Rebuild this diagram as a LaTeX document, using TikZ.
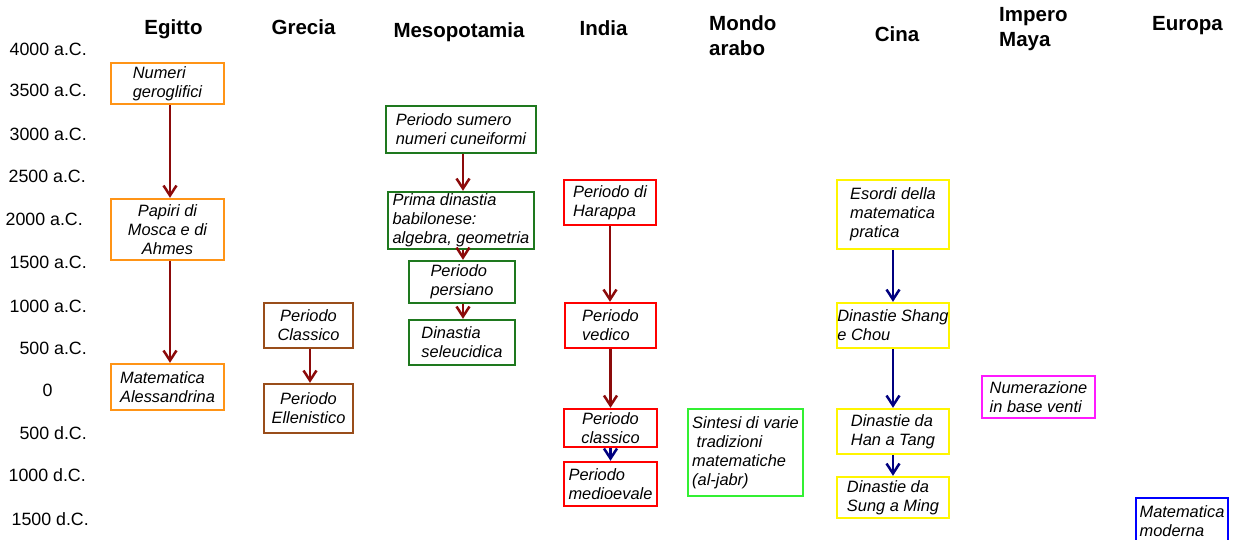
\documentclass[tikz,border=0pt]{standalone}
\usepackage{fontspec}
\setmainfont{Liberation Sans}
\usetikzlibrary{arrows.meta}
\definecolor{egy}{HTML}{FF9416}
\definecolor{gre}{HTML}{994D1A}
\definecolor{mes}{HTML}{1E781E}
\definecolor{ind}{HTML}{FF0000}
\definecolor{ara}{HTML}{33F033}
\definecolor{cin}{HTML}{FFF500}
\definecolor{may}{HTML}{FF1AFF}
\definecolor{eur}{HTML}{0000FF}
\definecolor{arrred}{HTML}{8C0A0A}
\definecolor{arrblu}{HTML}{000080}
\newcommand{\mybxfont}{\fontsize{16.4}{19}\selectfont\itshape}
\newcommand{\myyrfont}{\fontsize{17.8}{20}\selectfont}
\newcommand{\myhdfont}{\fontsize{20.5}{25}\selectfont\bfseries}
\tikzset{
  box/.style={draw=#1, line width=2.4pt, rectangle, font=\mybxfont, align=left, inner sep=0pt},
  arr/.style={draw=#1, line width=2.5pt, -{Straight Barb[length=10pt,width=13pt]}},
  yr/.style={font=\myyrfont, anchor=east, inner sep=0pt},
  hd/.style={font=\myhdfont, anchor=base, inner sep=0pt, align=left},
}
\begin{document}
\begin{tikzpicture}[x=1pt,y=-1pt]
\fill[white] (0,0) rectangle (1235,540);
\useasboundingbox (0,0) rectangle (1235,540);

% year labels
\node[yr] (y1) at (87,49.7) {4000 a.C.};
\node[yr] (y2) at (87,90.5) {3500 a.C.};
\node[yr] (y3) at (87,134) {3000 a.C.};
\node[yr] (y4) at (86,176.7) {2500 a.C.};
\node[yr] (y5) at (83,219) {2000 a.C.};
\node[yr] (y6) at (87,262.5) {1500 a.C.};
\node[yr] (y7) at (87,306) {1000 a.C.};
\node[yr] (y8) at (87,348) {500 a.C.};
\node[yr,anchor=center] (y9) at (47.5,390) {0};
\node[yr] (y10) at (87,433.5) {500 d.C.};
\node[yr] (y11) at (86,475.5) {1000 d.C.};
\node[yr] (y12) at (89,519) {1500 d.C.};

% headers
\node[hd] (hE) at (173.5,35) {Egitto};
\node[hd] (hG) at (303.5,35) {Grecia};
\node[hd] (hM) at (459,38) {Mesopotamia};
\node[hd] (hI) at (603.5,35.5) {India};
\node[hd,anchor=west] (hA) at (709,35.5) {Mondo\\arabo};
\node[hd] (hC) at (897,42) {Cina};
\node[hd,anchor=west] (hY) at (999,29.5) {Impero\\Maya};
\node[hd] (hU) at (1187.5,31) {Europa};

% Egitto
\node[box=egy, minimum width=113pt, minimum height=41pt] (E1) at (167.5,83.5) {Numeri\\geroglifici};
\node[box=egy, minimum width=113pt, minimum height=61pt, align=center] (E2) at (167.5,229.5) {Papiri di\\Mosca e di\\Ahmes};
\node[box=egy, minimum width=113pt, minimum height=46pt] (E3) at (167.5,387) {Matematica\\Alessandrina};

% Grecia
\node[box=gre, minimum width=89pt, minimum height=45pt, align=center] (G1) at (308.5,325.5) {Periodo\\Classico};
\node[box=gre, minimum width=89pt, minimum height=49pt, align=center] (G2) at (308.5,408.5) {Periodo\\Ellenistico};

% Mesopotamia
\node[box=mes, minimum width=150pt, minimum height=47pt] (M1) at (461,129.5) {Periodo sumero\\numeri cuneiformi};
\node[box=mes, minimum width=146pt, minimum height=57pt] (M2) at (461,220.5) {Prima dinastia\\babilonese:\\algebra, geometria};
\node[box=mes, minimum width=106pt, minimum height=42pt] (M3) at (462,282) {Periodo\\persiano};
\node[box=mes, minimum width=106pt, minimum height=45pt] (M4) at (462,342.5) {Dinastia\\seleucidica};

% India
\node[box=ind, minimum width=92pt, minimum height=45pt] (I1) at (610,202.5) {Periodo di\\Harappa};
\node[box=ind, minimum width=91pt, minimum height=45pt] (I2) at (610.5,325.5) {Periodo\\vedico};
\node[box=ind, minimum width=93pt, minimum height=38pt, align=center] (I3) at (610.5,428) {Periodo\\classico};
\node[box=ind, minimum width=93pt, minimum height=44pt] (I4) at (610.5,484) {Periodo\\medioevale};

% Mondo arabo
\node[box=ara, minimum width=115pt, minimum height=87pt] (A1) at (745.5,452.5) {Sintesi di varie\\\ tradizioni\\matematiche\\(al-jabr)};

% Cina
\node[box=cin, minimum width=112pt, minimum height=69pt] (C1) at (893,214.5) {Esordi della\\matematica\\pratica};
\node[box=cin, minimum width=112pt, minimum height=45pt] (C2) at (893,325.5) {Dinastie Shang\\e Chou};
\node[box=cin, minimum width=112pt, minimum height=45pt] (C3) at (893,431.5) {Dinastie da\\Han a Tang};
\node[box=cin, minimum width=112pt, minimum height=41pt] (C4) at (893,497.5) {Dinastie da\\Sung a Ming};

% Impero Maya
\node[box=may, minimum width=113pt, minimum height=42pt] (Y1) at (1038.5,397) {Numerazione\\in base venti};

% Europa
\node[box=eur, minimum width=92pt, minimum height=46pt] (U1) at (1182,521) {Matematica\\moderna};

% arrows
\draw[arr=arrred] ([xshift=2.5pt]E1.south) -- ([xshift=2.5pt]E1.south |- E2.north);
\draw[arr=arrred] ([xshift=2.5pt]E2.south) -- ([xshift=2.5pt]E2.south |- E3.north);
\draw[arr=arrred] ([xshift=1.5pt]G1.south) -- ([xshift=1.5pt]G1.south |- G2.north);
\draw[arr=arrred] ([xshift=2pt]M1.south) -- ([xshift=2pt]M1.south |- M2.north);
\draw[arr=arrred] ([xshift=2pt]M2.south) -- ([xshift=2pt]M2.south |- M3.north);
\draw[arr=arrred] ([xshift=1pt]M3.south) -- ([xshift=1pt]M3.south |- M4.north);
\draw[arr=arrred] (I1.south) -- (I1.south |- I2.north);
\draw[arr=arrred] (I2.south) -- (I2.south |- I3.north);
\draw[arr=arrblu] (I3.south) -- (I3.south |- I4.north);
\draw[arr=arrblu] (C1.south) -- (C1.south |- C2.north);
\draw[arr=arrblu] (C2.south) -- (C2.south |- C3.north);
\draw[arr=arrblu] (C3.south) -- (C3.south |- C4.north);
\end{tikzpicture}
\end{document}
